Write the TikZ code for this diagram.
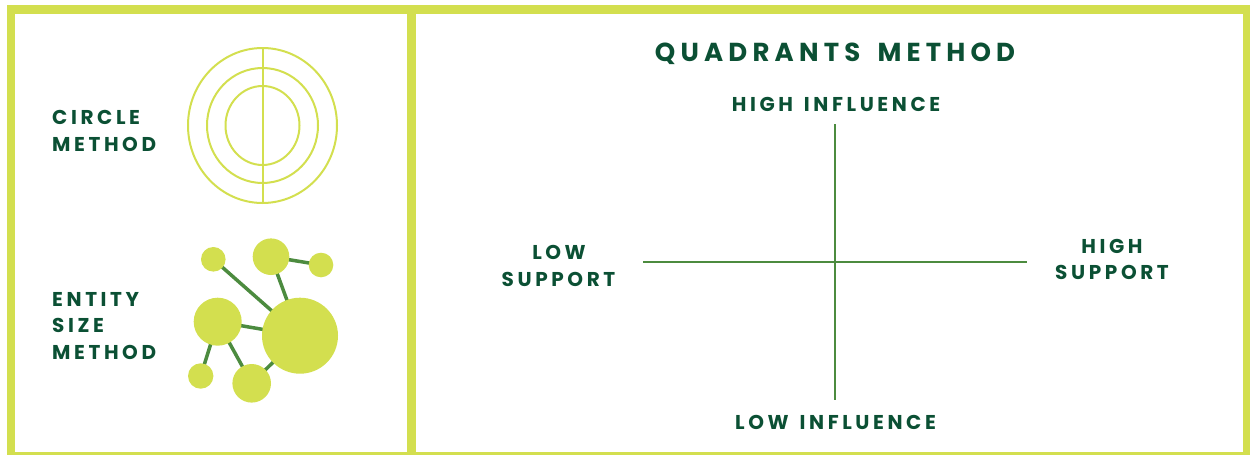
\documentclass[tikz,border=0pt]{standalone}
\usepackage{fontspec}
\setmainfont{Poppins}
\newfontfamily\lblfont[LetterSpace=18,WordSpace=1.4]{Poppins}
\newfontfamily\ttlfont[LetterSpace=20,WordSpace=1.6]{Poppins}
\usetikzlibrary{backgrounds}
\definecolor{lime}{HTML}{D3DF4F}
\definecolor{darkgreen}{HTML}{0B5034}
\definecolor{midgreen}{HTML}{4C8B3F}
\tikzset{
  bar/.style={fill=lime,draw=none},
  ring/.style={draw=lime,line width=2pt},
  blob/.style={circle,fill=lime,draw=none,inner sep=0pt},
  link/.style={draw=midgreen,line width=3.5pt},
  axis/.style={draw=midgreen,line width=2.5pt},
  lbl/.style={inner sep=0pt,text=darkgreen,font=\lblfont\fontsize{20}{24}\selectfont\bfseries},
  ttl/.style={inner sep=0pt,text=darkgreen,font=\ttlfont\fontsize{26}{30}\selectfont\bfseries}
}
\begin{document}
\begin{tikzpicture}[x=1pt,y=-1pt]
\useasboundingbox (0,0) rectangle (1250,455);
% frames
\fill[bar] (7,5) rectangle (1250,14);
\fill[bar] (7,5) rectangle (15,455);
\fill[bar] (407,5) rectangle (416,455);
\fill[bar] (1243,5) rectangle (1250,455);
\fill[bar] (7,452) rectangle (1250,455);
% circle method
\draw[ring] (262.5,125.5) ellipse [x radius=74.5pt, y radius=77.5pt];
\draw[ring] (262.5,125.5) ellipse [x radius=55.5pt, y radius=57.5pt];
\draw[ring] (262.5,125.5) ellipse [x radius=37pt, y radius=39.5pt];
\coordinate (vtop) at (262.5,48);
\coordinate (vbot) at (262.5,203);
\draw[ring] (vtop) -- (vbot);
\node[lbl,anchor=base west] (c1) at (52,124) {CIRCLE};
\node[lbl,anchor=base west] (c2) at (52,151) {METHOD};
% entity size method
\node[blob,minimum size=24.6pt] (n1) at (213.3,259.3) {};
\node[blob,minimum size=36.6pt] (n2) at (271,256.7) {};
\node[blob,minimum size=24.6pt] (n3) at (321,265) {};
\node[blob,minimum size=48pt] (n4) at (217.7,321.7) {};
\node[blob,minimum size=76pt] (n5) at (300,335.7) {};
\node[blob,minimum size=25.4pt] (n6) at (200.7,376) {};
\node[blob,minimum size=38.6pt] (n7) at (251.7,383.3) {};
\begin{scope}[on background layer]
\draw[link] (n1.center) -- (n5.center);
\draw[link] (n2.center) -- (n5.center);
\draw[link] (n2.center) -- (n3.center);
\draw[link] (n4.center) -- (n5.center);
\draw[link] (n4.center) -- (n6.center);
\draw[link] (n4.center) -- (n7.center);
\draw[link] (n7.center) -- (n5.center);
\end{scope}
\node[lbl,anchor=base west] (e1) at (52,306) {ENTITY};
\node[lbl,anchor=base west] (e2) at (52,332.7) {SIZE};
\node[lbl,anchor=base west] (e3) at (52,359) {METHOD};
% quadrants
\node[ttl,anchor=base] (title) at (835,61.7) {QUADRANTS METHOD};
\node[lbl,anchor=base] (hi) at (836,111) {HIGH INFLUENCE};
\node[lbl,anchor=base] (li) at (835.5,429) {LOW INFLUENCE};
\node[lbl,anchor=base] (ls1) at (559,259.3) {LOW};
\node[lbl,anchor=base] (ls2) at (558.5,286) {SUPPORT};
\node[lbl,anchor=base] (hs1) at (1112,253) {HIGH};
\node[lbl,anchor=base] (hs2) at (1112,279) {SUPPORT};
\coordinate (atop) at (835,124);
\coordinate (abot) at (835,400);
\coordinate (aleft) at (643,262);
\coordinate (aright) at (1027,262);
\draw[axis] (atop) -- (abot);
\draw[axis] (aleft) -- (aright);
\end{tikzpicture}
\end{document}
